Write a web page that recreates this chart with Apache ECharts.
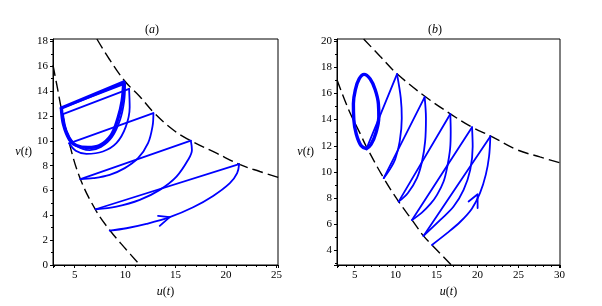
<!DOCTYPE html>
<html><head><meta charset="utf-8">
<script src="https://cdn.jsdelivr.net/npm/echarts@6/dist/echarts.min.js"></script>
<style>html,body{margin:0;padding:0;background:#fff}#c{width:602px;height:306px}</style>
</head><body><div id="c"></div>
<script>
// ---------- tick labels ----------
const xTicksA = [5, 10, 15, 20, 25];
const yTicksA = [0, 2, 4, 6, 8, 10, 12, 14, 16, 18];
const xTicksB = [5, 10, 15, 20, 25, 30];
const yTicksB = [4, 6, 8, 10, 12, 14, 16, 18, 20];
const panelLetters = ['a', 'b'];

// ---------- panel (a) ----------
const aUpper = [[7.2,18.2],[8.47,16.53],[10,14.78],[11.45,13.57],[12.87,12.25],[14.75,10.89],[16.6,9.97],[19.06,9.0],[21.4,8.08],[23.35,7.53],[25.2,7.05]];
const aLower = [[2.85,16.1],[3.3,14.2],[3.7,12.5],[4.45,9.85],[5.55,6.95],[7.1,4.4],[8.5,2.78],[10.1,1.25],[11.35,0.1]];
const aArc1 = [[8.47,2.77],[10.13,2.96],[12.11,3.31],[14.42,3.85],[16.74,4.65],[18.72,5.56],[20.38,6.59],[21.1,7.4],[21.3,8.12]];
const aArc2 = [[7.08,4.49],[9.13,4.7],[11.45,5.24],[13.43,6.05],[15.09,7.12],[16.24,8.47],[16.62,9.27],[16.51,10.02]];
const aArc3 = [[5.57,6.91],[6.82,6.99],[8.47,7.26],[9.96,7.8],[11.28,8.6],[12.27,9.81],[12.72,11.2],[12.8,12.23]];
const aArc4 = [[4.45,9.8],[5.1,9.2],[6.16,8.95],[7.8,9.14],[9.13,9.81],[10.05,11.1],[10.45,12.7],[10.39,14.19]];
const aArc5 = [[3.84,12.15],[4.2,10.8],[4.9,9.8],[5.8,9.35],[6.5,9.25],[7.6,9.5],[8.7,10.3],[9.5,11.7],[9.9,13.2],[10.0,14.6]];
const aCycle = [[3.68,12.64],[3.9,11.3],[4.5,10.08],[5.17,9.62],[6.32,9.46],[7.48,9.62],[8.64,10.48],[9.3,11.83],[9.7,13.2],[9.86,14.73]];
const aJumps = [
  [[21.3,8.12],[7.08,4.49]],
  [[16.51,10.02],[5.57,6.91]],
  [[12.8,12.23],[4.45,9.8]],
  [[10.39,14.19],[3.84,12.15]],
  [[10.0,14.6],[3.68,12.64]]
];
const aCycleJump = [[9.86,14.73],[3.68,12.64]];
const aArrow = [[13.26,3.95],[14.42,3.85],[13.43,3.15]];

// ---------- panel (b) ----------
const bUpper = [[6.1,20.15],[8.13,18.82],[10.17,17.5],[13.6,15.76],[16.67,14.44],[19.3,13.42],[21.55,12.76],[24.8,11.7],[27.6,11.15],[30.05,10.7]];
const bLower = [[2.85,17.04],[4.27,14.75],[5.7,12.9],[6.5,11.85],[8.55,9.53],[10.37,7.74],[12,6.34],[13.4,5.12],[14.43,4.43],[16.8,2.9]];
const bArc1 = [[14.43,4.43],[16.27,5.33],[17.89,6.2],[19.3,7.2],[20.3,8.4],[21.0,9.8],[21.4,11.2],[21.55,12.71]];
const bArc2 = [[13.4,5.12],[15.45,6.34],[17.07,7.36],[18.29,8.64],[19.1,10.16],[19.4,11.95],[19.32,13.42]];
const bArc3 = [[12,6.34],[13.2,6.9],[14.3,7.6],[15.05,8.25],[15.85,9.27],[16.3,10.4],[16.65,11.8],[16.72,13.1],[16.67,14.42]];
const bArc4 = [[10.37,7.74],[11.5,8.4],[12.6,9.53],[13.22,10.8],[13.6,12.33],[13.7,14.11],[13.54,15.72]];
const bArc5 = [[8.55,9.53],[9.3,10.2],[9.96,11.0],[10.5,12.33],[10.75,14.11],[10.63,15.64],[10.17,17.47]];
const bCycle = [[6.45,11.78],[7.0,12.1],[7.6,13.0],[7.95,14.2],[7.9,15.2],[7.5,16.3],[6.9,17.1],[6.15,17.45],[5.55,17.1],[5.1,16.3],[4.85,15.2],[4.9,14.0],[5.2,12.9],[5.8,12.0],[6.45,11.78]];
const bJumps = [
  [[21.55,12.71],[13.4,5.12]],
  [[19.32,13.42],[12,6.34]],
  [[16.67,14.42],[10.37,7.74]],
  [[13.54,15.72],[8.55,9.53]],
  [[10.17,17.47],[6.45,11.78]]
];
const bArrow = [[18.9,7.75],[20.0,8.3],[20.0,7.25]];

// ---------- build ----------
const BLUE = '#0000ff';
const FONT = 'Liberation Serif';
const series = [];
function dashed(data, idx) {
  series.push({type:'line', xAxisIndex:idx, yAxisIndex:idx, data, smooth:0.4, symbol:'none', silent:true,
    lineStyle:{color:'#000', width:1.4, type:[11,5]}, z:1});
}
function curve(data, idx, w, smooth) {
  series.push({type:'line', xAxisIndex:idx, yAxisIndex:idx, data, smooth:smooth, symbol:'none', silent:true,
    lineStyle:{color:BLUE, width:w, cap:'round', join:'round'}, z:3});
}
dashed(aUpper, 0); dashed(aLower, 0);
[aArc1, aArc2, aArc3, aArc4, aArc5].forEach(d => curve(d, 0, 1.8, 0.35));
curve(aCycle, 0, 3.4, 0.35);
aJumps.forEach(d => curve(d, 0, 1.8, false));
curve(aCycleJump, 0, 3.4, false);
curve(aArrow, 0, 1.8, false);

dashed(bUpper, 1); dashed(bLower, 1);
[bArc1, bArc2, bArc3, bArc4, bArc5].forEach(d => curve(d, 1, 1.8, 0.35));
curve(bCycle, 1, 3.4, 0.4);
bJumps.forEach(d => curve(d, 1, 1.8, false));
curve(bArrow, 1, 1.8, false);

const rich = {i:{fontStyle:'italic', fontFamily:FONT, fontSize:12, color:'#000'}};
function axisCommon(ticks, gridIndex, min, max, split, minorSplit) {
  return {
    type:'value', gridIndex, min, max, splitNumber:split,
    axisLine:{show:true, onZero:false, lineStyle:{color:'#000', width:1}},
    axisTick:{show:true, length:3, lineStyle:{color:'#000'}},
    minorTick:{show:true, splitNumber:minorSplit, length:2, lineStyle:{color:'#000'}},
    splitLine:{show:false},
    axisLabel:{color:'#000', fontFamily:FONT, fontSize:11, margin:5,
      showMinLabel:true, showMaxLabel:true,
      formatter: v => ticks.some(t => Math.abs(t - v) < 1e-6) ? String(Math.round(v)) : ''}
  };
}
const nameStyle = {fontFamily:FONT, fontSize:12, color:'#000', rich};
const xA = Object.assign(axisCommon(xTicksA, 0, 2.85, 25.15, 5, 5), {name:'{i|u}({i|t})', nameLocation:'middle', nameGap:15, nameTextStyle:nameStyle});
const yA = Object.assign(axisCommon(yTicksA, 0, 0, 18.2, 9, 2), {name:'{i|v}({i|t})', nameLocation:'middle', nameRotate:0, nameGap:21, nameTextStyle:nameStyle});
const xB = Object.assign(axisCommon(xTicksB, 1, 2.85, 30.05, 5, 5), {name:'{i|u}({i|t})', nameLocation:'middle', nameGap:15, nameTextStyle:nameStyle});
const yB = Object.assign(axisCommon(yTicksB, 1, 2.9, 20.15, 8, 2), {name:'{i|v}({i|t})', nameLocation:'middle', nameRotate:0, nameGap:23, nameTextStyle:nameStyle});

const chart = echarts.init(document.getElementById('c'), null, {renderer:'canvas'});
chart.setOption({
  animation:false,
  backgroundColor:'#fff',
  title: panelLetters.map((l, i) => ({
    text:'({i|' + l + '})', left: i === 0 ? 147 : 430, top: 19, textAlign:'center',
    textStyle:{fontFamily:FONT, fontSize:12, fontWeight:'normal', color:'#000', rich}
  })),
  grid:[
    {left:53, top:39, width:225, height:226, show:true, borderColor:'#000', borderWidth:1, backgroundColor:'transparent'},
    {left:337, top:39, width:223, height:226, show:true, borderColor:'#000', borderWidth:1, backgroundColor:'transparent'}
  ],
  xAxis:[xA, xB],
  yAxis:[yA, yB],
  series
});
</script></body></html>
